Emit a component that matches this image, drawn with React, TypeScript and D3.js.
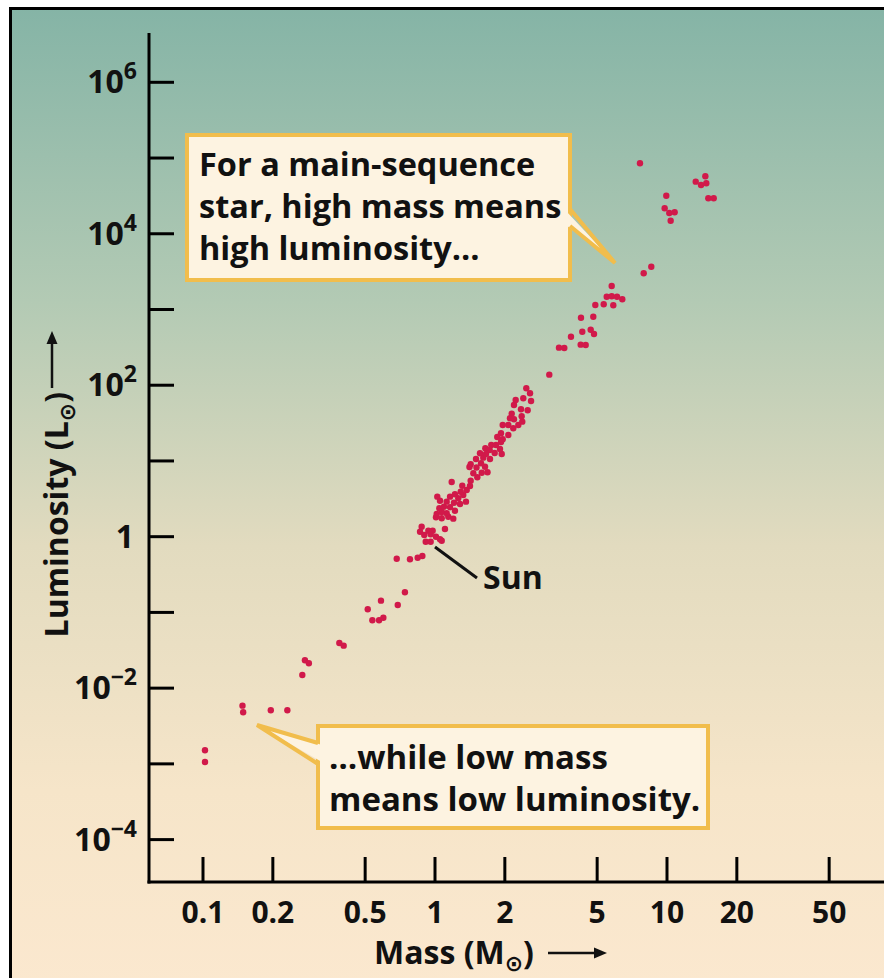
import React from "react";
import * as d3 from "d3";

// Main-sequence stars: mass (solar masses) and luminosity (solar luminosities)
const mass: number[] = [
  0.102, 0.102, 0.148, 0.149, 0.196, 0.231, 0.268, 0.275, 0.286, 0.387,
  0.404, 0.513, 0.537, 0.574, 0.599, 0.585, 0.691, 0.742, 0.684, 0.780,
  0.842, 0.882, 0.876, 0.862, 0.936, 0.977, 0.899, 0.958, 1.010, 1.051,
  0.912, 0.958, 1.069, 1.104, 1.010, 1.069, 1.141, 1.199, 1.017, 1.123,
  1.069, 1.219, 1.044, 1.161, 1.093, 1.282, 1.207, 1.123, 1.051, 1.360,
  1.260, 1.161, 1.023, 1.324, 1.219, 1.291, 1.370, 1.415, 1.311, 1.180,
  1.425, 1.522, 1.463, 1.590, 1.684, 1.408, 1.510, 1.643, 1.425, 1.579,
  1.502, 1.615, 1.726, 1.563, 1.659, 1.808, 1.939, 1.648, 1.721, 1.748,
  1.906, 1.832, 1.925, 1.855, 1.958, 1.925, 2.070, 1.958, 2.070, 2.286,
  2.175, 2.105, 2.190, 2.378, 2.141, 2.364, 2.190, 2.348, 2.509, 2.227,
  2.402, 2.594, 2.475, 2.568, 3.109, 3.423, 3.608, 3.856, 4.246, 4.462,
  4.314, 4.689, 4.845, 4.259, 4.812, 4.909, 5.336, 5.869, 5.497, 5.776,
  6.089, 6.417, 5.776, 7.935, 8.557, 7.648, 9.93, 9.77, 10.23, 10.79,
  10.37, 13.30, 14.02, 14.63, 14.77, 15.07, 15.90,
];

const luminosity: number[] = [
  0.001512, 0.001059, 0.005868, 0.0048, 0.0051, 0.0051, 0.01492, 0.02333, 0.0213, 0.03947,
  0.03637, 0.11, 0.0787, 0.0787, 0.0852, 0.1429, 0.1253, 0.1844, 0.5123, 0.503,
  0.528, 0.556, 1.355, 1.164, 1.2, 1.2, 1.053, 1.076, 1.0, 0.924,
  0.859, 0.859, 0.885, 1.264, 1.804, 1.75, 1.837, 1.729, 1.994, 2.037,
  2.119, 2.204, 2.371, 2.444, 2.489, 2.703, 2.812, 2.899, 2.988, 2.899,
  3.215, 3.375, 3.375, 3.553, 3.63, 3.929, 4.137, 4.672, 4.714, 5.277,
  5.49, 6.086, 6.875, 7.001, 7.108, 8.324, 8.199, 8.4, 9.04, 9.316,
  10.62, 11.05, 10.62, 12.63, 12.36, 12.74, 12.36, 14.7, 13.96, 16.25,
  14.39, 16.25, 17.8, 20.73, 19.33, 23.2, 22.03, 29.85, 29.85, 29.85,
  27.01, 36.6, 35.5, 33.01, 42.1, 38.9, 54.84, 48.12, 46.68, 63.86,
  67.25, 61.94, 91.1, 78.28, 137.8, 313.2, 310.3, 437.5, 343.1, 340.0,
  509.3, 541.2, 474.9, 779.6, 803.7, 1147, 1172, 1137, 1476, 1494,
  1476, 1364, 2044, 3007, 3675, 85260, 31830, 21700, 18810, 19220,
  14880, 48730, 44070, 57410, 46400, 29410, 29410,
];

const massTicks: number[] = [0.1, 0.2, 0.5, 1, 2, 5, 10, 20, 50];
const massTickLabels: string[] = ["0.1", "0.2", "0.5", "1", "2", "5", "10", "20", "50"];
const lumTickExponents: number[] = [-4, -3, -2, -1, 0, 1, 2, 3, 4, 5, 6];
const lumLabelExponents: number[] = [-4, -2, 0, 2, 4, 6];

const topNote: string[] = ["For a main-sequence", "star, high mass means", "high luminosity…"];
const bottomNote: string[] = ["…while low mass", "means low luminosity."];

const FONT = "'Open Sans', Lato, 'DejaVu Sans', sans-serif";

export default function App() {
  const W = 884;
  const H = 978;
  const x = d3.scaleLog().domain([0.1, 10]).range([203, 667]);
  const y = d3.scaleLog().domain([1e-4, 1e6]).range([839.6, 82.3]);

  const axisX = 149;
  const axisY = 882;
  const gold = "#f1bd4c";
  const cream = "#fdf3e1";
  const dot = "#d1194a";
  const ink = "#111";

  return (
    <svg
      width={W}
      height={H}
      style={{ position: "absolute", left: 0, top: 0, display: "block" }}
      fontFamily={FONT}
    >
      <defs>
        <linearGradient id="bg" x1="0" y1="0" x2="0" y2="1">
          <stop offset="0%" stopColor="#85b4a6" />
          <stop offset="30%" stopColor="#b3cab4" />
          <stop offset="55%" stopColor="#e2dbbf" />
          <stop offset="80%" stopColor="#f6e5c9" />
          <stop offset="100%" stopColor="#fbe8cf" />
        </linearGradient>
      </defs>
      <rect x={0} y={0} width={W} height={H} fill="#ffffff" />
      <rect x={10.5} y={8.5} width={W} height={H} fill="url(#bg)" stroke="#000" strokeWidth={3} />

      {/* axes */}
      <line x1={axisX} y1={33} x2={axisX} y2={axisY + 1.5} stroke="#000" strokeWidth={3} />
      <line x1={axisX - 1.5} y1={axisY} x2={W} y2={axisY} stroke="#000" strokeWidth={3} />

      {lumTickExponents.map((e) => (
        <line
          key={"yt" + e}
          x1={axisX}
          x2={axisX + 25}
          y1={y(Math.pow(10, e))}
          y2={y(Math.pow(10, e))}
          stroke="#000"
          strokeWidth={3}
        />
      ))}
      {lumLabelExponents.map((e) => {
        const yy = y(Math.pow(10, e)) + 11;
        if (e === 0) {
          return (
            <text key={"yl" + e} x={134} y={yy} textAnchor="end" fontSize={32} fontWeight={700} fill={ink}>
              1
            </text>
          );
        }
        return (
          <text key={"yl" + e} x={137} y={yy} textAnchor="end" fontSize={32} fontWeight={700} fill={ink}>
            10
            <tspan fontSize={23} dy={-14}>
              {e < 0 ? "−" + Math.abs(e) : String(e)}
            </tspan>
          </text>
        );
      })}

      {massTicks.map((m, i) => (
        <g key={"xt" + m}>
          <line x1={x(m)} x2={x(m)} y1={axisY} y2={axisY - 25} stroke="#000" strokeWidth={3} />
          <text x={x(m)} y={923} textAnchor="middle" fontSize={30} fontWeight={700} fill={ink}>
            {massTickLabels[i]}
          </text>
        </g>
      ))}

      {/* axis titles */}
      <text x={374} y={964} fontSize={32} fontWeight={700} fill={ink}>
        Mass (M<tspan fontSize={22} dy={7}>⊙</tspan>
        <tspan dy={-7}>)</tspan>
      </text>
      <line x1={548} x2={600} y1={953} y2={953} stroke={ink} strokeWidth={2.5} />
      <path d="M607,953 L594,947.5 L594,958.5 Z" fill={ink} />

      <g transform="translate(68,392) rotate(-90)">
        <text x={0} y={0} textAnchor="end" fontSize={32} fontWeight={700} fill={ink}>
          Luminosity (L<tspan fontSize={22} dy={7}>⊙</tspan>
          <tspan dy={-7}>)</tspan>
        </text>
      </g>
      <line x1={52} x2={52} y1={388} y2={338} stroke={ink} strokeWidth={2.5} />
      <path d="M52,331 L46.5,344 L57.5,344 Z" fill={ink} />

      {/* data points */}
      {mass.map((m, i) => (
        <circle key={"p" + i} cx={x(m)} cy={y(luminosity[i])} r={3.2} fill={dot} />
      ))}

      {/* Sun label */}
      <line x1={435} y1={547} x2={477} y2={578} stroke={ink} strokeWidth={3} />
      <text x={483} y={589} fontSize={32} fontWeight={700} fill={ink}>
        Sun
      </text>

      {/* top annotation */}
      <rect x={187} y={135} width={383} height={145} fill={cream} stroke={gold} strokeWidth={4} />
      <path d="M566,211 L615,263 L566,225 Z" fill={cream} />
      <path d="M570,209 L615,263 L570,226" fill="none" stroke={gold} strokeWidth={4} strokeLinejoin="miter" />
      {topNote.map((t, i) => (
        <text key={"tn" + i} x={199} y={176 + i * 42} fontSize={32.5} fontWeight={700} fill={ink}>
          {t}
        </text>
      ))}

      {/* bottom annotation */}
      <rect x={318} y={726} width={390} height={102} fill={cream} stroke={gold} strokeWidth={4} />
      <path d="M322,745 L257,725 L322,762 Z" fill={cream} />
      <path d="M318,743 L257,725 L318,764" fill="none" stroke={gold} strokeWidth={4} strokeLinejoin="miter" />
      {bottomNote.map((t, i) => (
        <text key={"bn" + i} x={329} y={769 + i * 42} fontSize={33} fontWeight={700} fill={ink}>
          {t}
        </text>
      ))}
    </svg>
  );
}
